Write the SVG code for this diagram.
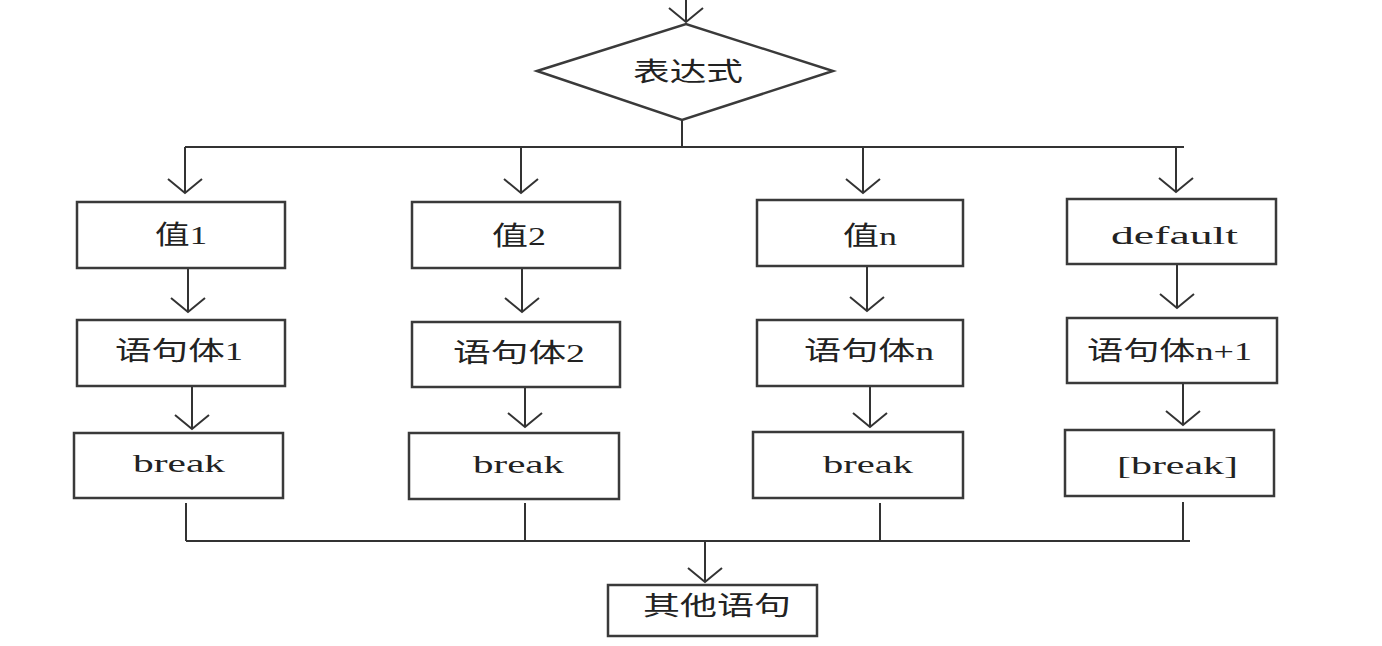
<svg xmlns="http://www.w3.org/2000/svg" width="1382" height="646" viewBox="0 0 1382 646">
<style>
.box{fill:#fff;stroke:#3a3a3a;stroke-width:2.5}
.ln{fill:none;stroke:#333;stroke-width:2}
.arr{fill:none;stroke:#333;stroke-width:2;marker-end:url(#v)}
.t{font-family:"Liberation Serif","Noto Sans CJK SC",serif;font-size:26px;fill:#222}
</style>
<defs>
<marker id="v" viewBox="-20 -20 40 40" markerWidth="40" markerHeight="40" markerUnits="userSpaceOnUse" refX="0" refY="0" orient="auto" overflow="visible">
<path d="M -14 -17 L 0 0 L -14 17" fill="none" stroke="#333" stroke-width="2"/>
</marker>
</defs>
<rect width="1382" height="646" fill="#fff"/>
<g id="connectors">
<line class="arr" x1="686" y1="0" x2="686" y2="22"/>
<polyline class="ln" points="682,120 682,147"/>
<line class="ln" x1="185" y1="147" x2="1184" y2="147"/>
<line class="arr" x1="185" y1="147" x2="185" y2="193"/>
<line class="arr" x1="521" y1="147" x2="521" y2="193"/>
<line class="arr" x1="863" y1="147" x2="863" y2="193"/>
<line class="arr" x1="1176" y1="147" x2="1176" y2="192"/>
<line class="arr" x1="188" y1="268" x2="188" y2="312"/>
<line class="arr" x1="522" y1="268" x2="522" y2="312"/>
<line class="arr" x1="867" y1="266" x2="867" y2="311"/>
<line class="arr" x1="1177" y1="264" x2="1177" y2="308"/>
<line class="arr" x1="192" y1="386" x2="192" y2="429"/>
<line class="arr" x1="525" y1="387" x2="525" y2="427"/>
<line class="arr" x1="870" y1="386" x2="870" y2="427"/>
<line class="arr" x1="1183" y1="383" x2="1183" y2="425"/>
<line class="ln" x1="186" y1="503" x2="186" y2="541"/>
<line class="ln" x1="525" y1="503" x2="525" y2="541"/>
<line class="ln" x1="880" y1="503" x2="880" y2="541"/>
<line class="ln" x1="1183" y1="502" x2="1183" y2="541"/>
<line class="ln" x1="186" y1="541" x2="1190" y2="541"/>
<line class="arr" x1="705" y1="541" x2="705" y2="582"/>
</g>
<g id="decision">
<polygon class="box" points="537,71 686,24 833,71 682,120"/>
<text class="t" x="633" y="81" textLength="110" lengthAdjust="spacingAndGlyphs">表达式</text>
</g>
<g id="case1">
<rect class="box" x="77" y="202" width="208" height="66"/>
<text class="t" x="155" y="244" textLength="52" lengthAdjust="spacingAndGlyphs">值1</text>
</g>
<g id="body1">
<rect class="box" x="77" y="320" width="208" height="66"/>
<text class="t" x="115" y="360" textLength="128" lengthAdjust="spacingAndGlyphs">语句体1</text>
</g>
<g id="break1">
<rect class="box" x="74" y="433" width="209" height="65"/>
<text class="t" x="133" y="472" textLength="92" lengthAdjust="spacingAndGlyphs">break</text>
</g>
<g id="case2">
<rect class="box" x="412" y="202" width="208" height="66"/>
<text class="t" x="492" y="245" textLength="54" lengthAdjust="spacingAndGlyphs">值2</text>
</g>
<g id="body2">
<rect class="box" x="412" y="322" width="208" height="65"/>
<text class="t" x="453" y="362" textLength="132" lengthAdjust="spacingAndGlyphs">语句体2</text>
</g>
<g id="break2">
<rect class="box" x="409" y="433" width="210" height="66"/>
<text class="t" x="473" y="473" textLength="91" lengthAdjust="spacingAndGlyphs">break</text>
</g>
<g id="casen">
<rect class="box" x="757" y="200" width="206" height="66"/>
<text class="t" x="843" y="245" textLength="54" lengthAdjust="spacingAndGlyphs">值n</text>
</g>
<g id="bodyn">
<rect class="box" x="757" y="320" width="206" height="66"/>
<text class="t" x="804" y="360" textLength="130" lengthAdjust="spacingAndGlyphs">语句体n</text>
</g>
<g id="breakn">
<rect class="box" x="753" y="432" width="210" height="66"/>
<text class="t" x="823" y="473" textLength="90" lengthAdjust="spacingAndGlyphs">break</text>
</g>
<g id="default">
<rect class="box" x="1067" y="199" width="209" height="65"/>
<text class="t" x="1111" y="244" textLength="127" lengthAdjust="spacingAndGlyphs">default</text>
</g>
<g id="bodyn1">
<rect class="box" x="1067" y="318" width="210" height="65"/>
<text class="t" x="1087" y="360" textLength="165" lengthAdjust="spacingAndGlyphs">语句体n+1</text>
</g>
<g id="breakopt">
<rect class="box" x="1065" y="430" width="209" height="66"/>
<text class="t" x="1117" y="474" textLength="121" lengthAdjust="spacingAndGlyphs">[break]</text>
</g>
<g id="other">
<rect class="box" x="608" y="585" width="209" height="51"/>
<text class="t" x="643" y="615" textLength="148" lengthAdjust="spacingAndGlyphs">其他语句</text>
</g>
</svg>
